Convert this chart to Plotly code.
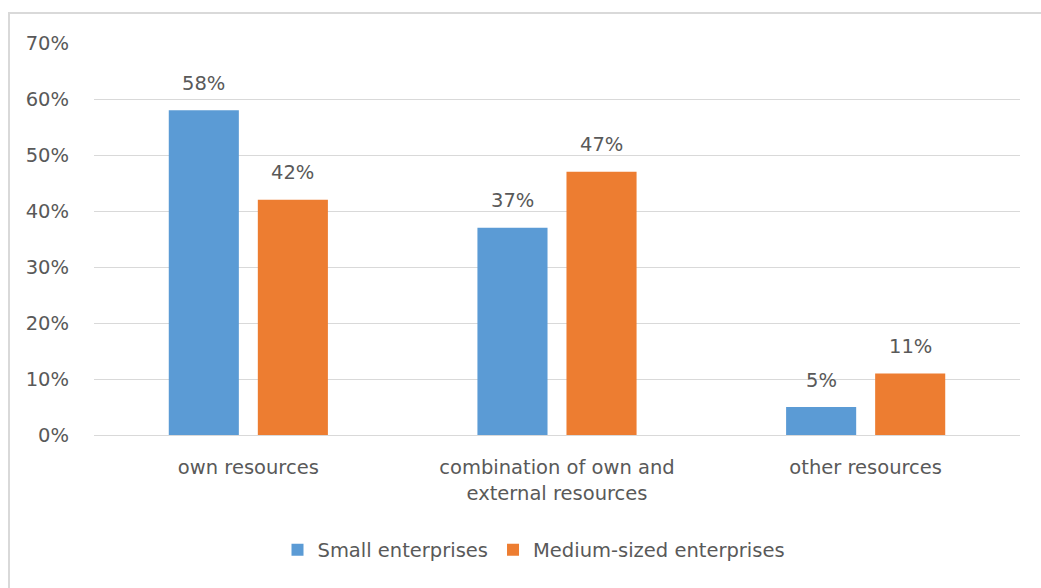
import plotly.graph_objects as go

categories = ["own resources", "combination of own and<br>external resources", "other resources"]
small_enterprises = [0.58, 0.37, 0.05]
medium_enterprises = [0.42, 0.47, 0.11]
series_names = ["Small enterprises", "Medium-sized enterprises"]
y_ticks = [0, 0.1, 0.2, 0.3, 0.4, 0.5, 0.6, 0.7]

BLUE = "#5B9BD5"
ORANGE = "#ED7D31"
TEXT = "#595959"
GRID = "#D9D9D9"
FONT = "DejaVu Sans"
FS = 19.5

W, H = 1041, 588
L, R, T, B = 94, 21, 43, 153
pw, ph = W - L - R, H - T - B

BARGAP = 0.423
GROUPGAP = 0.213

fig = go.Figure()
series = [(series_names[0], small_enterprises, BLUE),
          (series_names[1], medium_enterprises, ORANGE)]
for name, vals, color in series:
    fig.add_trace(go.Bar(
        x=categories, y=vals, name=name, marker_color=color,
        marker_line_width=0,
    ))

# value labels centred above each bar of the group
cat_px = pw / len(categories)
slot_px = cat_px * (1 - BARGAP) / len(series)
annotations = []
for i, (name, vals, color) in enumerate(series):
    shift = (i - (len(series) - 1) / 2) * slot_px
    for cat, v in zip(categories, vals):
        annotations.append(dict(
            x=cat, y=v, xref="x", yref="y", text=f"{round(v * 100)}%",
            showarrow=False, xshift=shift, yshift=27, yanchor="middle",
            font=dict(family=FONT, size=FS, color=TEXT),
        ))

def px_x(x):
    return (x - L) / pw

def px_y(y):
    return (H - B - y) / ph

fig.update_layout(
    width=W, height=H,
    margin=dict(l=L, r=R, t=T, b=B),
    paper_bgcolor="white", plot_bgcolor="white",
    barmode="group", bargap=BARGAP, bargroupgap=GROUPGAP,
    font=dict(family=FONT, size=FS, color=TEXT),
    showlegend=True,
    legend=dict(orientation="h", xref="container", yref="container",
                x=534 / W, y=1 - 550 / H, xanchor="center", yanchor="middle",
                font=dict(family=FONT, size=FS, color=TEXT),
                traceorder="normal"),
    xaxis=dict(showgrid=False, showline=True, linecolor=GRID, linewidth=1,
               ticks="", tickfont=dict(family=FONT, size=FS, color=TEXT),
               ticklabelstandoff=15),
    yaxis=dict(range=[0, 0.7], tickvals=y_ticks, tickformat=".0%",
               showgrid=True, gridcolor=GRID, gridwidth=1, zeroline=False,
               showline=False, ticks="",
               tickfont=dict(family=FONT, size=FS, color=TEXT),
               ticklabelstandoff=24),
    annotations=annotations,
    shapes=[dict(type="rect", xref="paper", yref="paper",
                 x0=px_x(9), x1=px_x(1060), y0=px_y(13), y1=px_y(620),
                 line=dict(color=GRID, width=2), fillcolor="rgba(0,0,0,0)",
                 layer="below")],
)

fig.write_html("out.html")
